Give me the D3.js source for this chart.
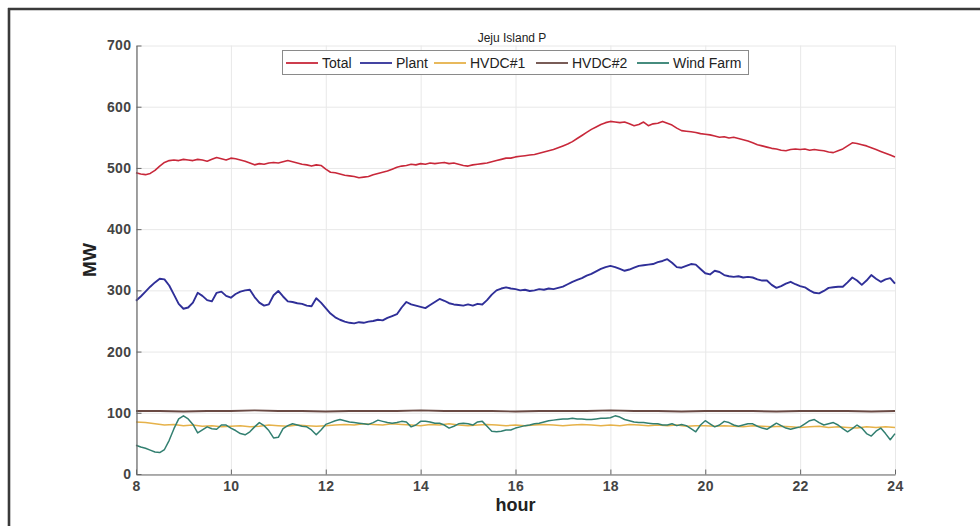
<!DOCTYPE html>
<html>
<head>
<meta charset="utf-8">
<script src="https://cdn.jsdelivr.net/npm/d3@7"></script>
<style>
  html, body { margin: 0; padding: 0; background: #fff; }
  svg { display: block; font-family: "Liberation Sans", Arial, sans-serif; }
</style>
</head>
<body>
<svg id="chart" width="980" height="526"></svg>
<script>
// Jeju Island active power, 8h-24h
const startHour = 8;
const endHour = 24;

// Samples every 0.1 h
const fineStep = 0.1;
const totalMW = [
  492,490,489,491,496,503,509,512,513,512,
  514,513,512,514,513,511,514,517,515,513,
  516,515,513,511,508,505,507,506,508,509,
  508,510,512,510,508,506,505,503,505,504,
  498,493,492,490,488,487,486,484,485,486,
  489,491,493,495,498,501,503,504,506,505,
  507,506,508,507,508,509,507,508,506,504,
  503,505,506,507,508,510,512,514,516,516,
  518,519,520,521,522,524,526,528,530,533,
  536,539,543,548,553,558,563,567,571,574,
  576,575,574,575,572,569,571,575,569,572,
  573,576,573,570,565,561,560,559,558,556,
  555,554,552,550,551,549,550,548,546,544,
  541,538,536,534,532,531,529,528,530,531,
  530,531,529,530,529,528,526,525,528,531,
  536,541,540,538,536,533,530,527,524,521,
  518
];
const plantMW = [
  283,290,298,306,313,319,318,308,293,278,
  270,272,280,296,291,284,282,296,298,291,
  288,294,298,300,301,289,280,275,277,292,
  299,290,282,281,279,278,275,274,287,280,
  271,262,256,252,249,247,246,248,247,249,
  250,252,251,255,258,261,272,281,277,275,
  273,271,276,281,286,283,279,277,276,275,
  277,275,278,277,284,293,300,303,305,303,
  302,300,301,299,300,302,301,303,302,304,
  306,310,314,317,320,324,327,331,335,338,
  340,338,335,332,334,337,340,341,342,343,
  346,348,351,345,338,337,340,343,342,335,
  328,326,332,330,325,323,322,323,321,322,
  321,318,316,316,309,304,307,311,314,310,
  307,305,300,296,295,299,304,305,306,306,
  313,321,316,309,316,325,319,314,318,320,
  311
];
const windMW = [
  47,44,42,39,36,35,40,55,74,90,
  95,90,81,67,72,77,74,73,80,80,
  75,71,66,64,69,77,84,79,71,59,
  60,74,79,82,80,78,77,72,64,72,
  81,84,87,89,87,85,84,83,82,81,
  84,88,86,84,83,84,86,85,77,80,
  86,86,85,83,83,80,75,78,82,83,
  82,80,85,86,78,70,69,70,72,72,
  75,77,79,80,82,83,85,87,88,89,
  90,90,91,90,90,89,89,90,91,91,
  92,95,93,89,87,85,84,84,83,82,
  82,80,80,82,79,81,79,74,69,80,
  87,82,77,80,86,84,80,78,80,82,
  82,78,75,73,78,83,79,75,73,75,
  77,82,87,89,84,80,82,84,80,74,
  69,74,80,75,66,62,70,75,66,56,
  66
];

// Samples every 0.2 h
const hvdc1Step = 0.2;
const hvdc1MW = [
  85,84,82,80,81,79,80,78,79,77,78,79,77,78,80,79,78,80,79,78,
  79,80,81,80,82,81,80,82,81,80,79,81,80,82,80,79,80,81,80,79,
  80,79,80,81,80,79,80,81,80,79,80,79,81,80,79,80,79,80,78,79,
  79,78,79,78,77,79,78,77,78,77,76,77,78,76,77,76,75,77,76,77,
  76
];

// Samples every 0.5 h
const hvdc2Step = 0.5;
const hvdc2MW = [
  103,103,102,103,103,104,103,103,102,103,103,103,104,103,103,103,
  102,103,103,103,104,103,103,102,103,103,103,102,103,103,103,102,103
];

const seriesNames = ["Total", "Plant", "HVDC#1", "HVDC#2", "Wind Farm"];
const seriesColors = ["#c8283a", "#2f2f98", "#e6b24a", "#6a4a44", "#327f70"];

const xTicks = [8, 10, 12, 14, 16, 18, 20, 22, 24];
const yTicks = [0, 100, 200, 300, 400, 500, 600, 700];

const titleText = "Jeju Island P";
const xLabel = "hour";
const yLabel = "MW";

// ---- layout
const svg = d3.select("#chart");
const plot = { left: 136, right: 895, top: 45.5, bottom: 474 };

const x = d3.scaleLinear().domain([startHour, endHour]).range([plot.left, plot.right]);
const y = d3.scaleLinear().domain([0, 700]).range([plot.bottom, plot.top]);

// outer figure frame (top and left edges)
svg.append("line").attr("x1", 8).attr("x2", 980).attr("y1", 9).attr("y2", 9)
  .attr("stroke", "#3a3a3a").attr("stroke-width", 2.6);
svg.append("line").attr("x1", 9).attr("x2", 9).attr("y1", 8).attr("y2", 526)
  .attr("stroke", "#3a3a3a").attr("stroke-width", 2.6);

// grid
const grid = svg.append("g").attr("stroke", "#e8e8e8").attr("stroke-width", 1);
grid.selectAll(".gx").data(xTicks).join("line")
  .attr("x1", d => x(d) + 0.5).attr("x2", d => x(d) + 0.5)
  .attr("y1", plot.top).attr("y2", plot.bottom);
grid.selectAll(".gy").data(yTicks).join("line")
  .attr("x1", plot.left).attr("x2", plot.right)
  .attr("y1", d => y(d) + 0.5).attr("y2", d => y(d) + 0.5);

// series
function toPoints(values, step) {
  return values.map((v, i) => [startHour + i * step, v]);
}
const seriesData = [
  toPoints(totalMW, fineStep),
  toPoints(plantMW, fineStep),
  toPoints(hvdc1MW, hvdc1Step),
  toPoints(hvdc2MW, hvdc2Step),
  toPoints(windMW, fineStep)
];
const widths = [1.6, 1.9, 1.5, 1.9, 1.5];
const line = d3.line().x(d => x(d[0])).y(d => y(d[1]));

// drawing order: HVDC#1 under wind farm, totals on top
const drawOrder = [2, 3, 4, 1, 0];
const lines = svg.append("g").attr("fill", "none").attr("stroke-linejoin", "round");
drawOrder.forEach(i => {
  lines.append("path")
    .attr("d", line(seriesData[i]))
    .attr("stroke", seriesColors[i])
    .attr("stroke-width", widths[i]);
});

// axes (MATLAB style: inward ticks)
const axisColor = "#666";
const xAxis = svg.append("g")
  .attr("transform", `translate(0,${plot.bottom + 0.5})`)
  .call(d3.axisBottom(x).tickValues(xTicks).tickFormat(d3.format("d"))
    .tickSize(-5).tickSizeOuter(0).tickPadding(7));
const yAxis = svg.append("g")
  .attr("transform", `translate(${plot.left + 0.5},0)`)
  .call(d3.axisLeft(y).tickValues(yTicks).tickFormat(d3.format("d"))
    .tickSize(-5).tickSizeOuter(0).tickPadding(5));
[xAxis, yAxis].forEach(a => {
  a.select(".domain").attr("stroke", axisColor).attr("stroke-width", 1.2);
  a.selectAll(".tick line").attr("stroke", axisColor);
  a.selectAll(".tick text")
    .attr("fill", "#444")
    .style("font-size", "14px")
    .style("font-weight", "bold")
    .style("letter-spacing", "0.4px")
    .style("font-family", "'Liberation Sans', Arial, sans-serif");
});

// title and axis labels
svg.append("text").attr("x", 512).attr("y", 42).attr("text-anchor", "middle")
  .style("font-size", "12px").attr("fill", "#222").text(titleText);
svg.append("text").attr("x", (plot.left + plot.right) / 2).attr("y", 511)
  .attr("text-anchor", "middle").style("font-size", "18px").style("font-weight", "bold")
  .attr("fill", "#222").text(xLabel);
svg.append("text")
  .attr("transform", `translate(96,260) rotate(-90)`)
  .attr("text-anchor", "middle").style("font-size", "19px").style("font-weight", "bold")
  .attr("fill", "#222").text(yLabel);

// legend
const legend = svg.append("g");
legend.append("rect").attr("x", 282.5).attr("y", 50.5).attr("width", 466).attr("height", 24)
  .attr("fill", "#fff").attr("stroke", "#8a8a8a").attr("stroke-width", 1);
const legendX = [286, 360, 434, 536, 637];
seriesNames.forEach((name, i) => {
  const g = legend.append("g").attr("transform", `translate(${legendX[i]},0)`);
  g.append("line").attr("x1", 0).attr("x2", 32).attr("y1", 63).attr("y2", 63)
    .attr("stroke", seriesColors[i]).attr("stroke-width", 1.8);
  g.append("text").attr("x", 36).attr("y", 67.5)
    .style("font-size", "14px").attr("fill", "#222").text(name);
});
</script>
</body>
</html>
